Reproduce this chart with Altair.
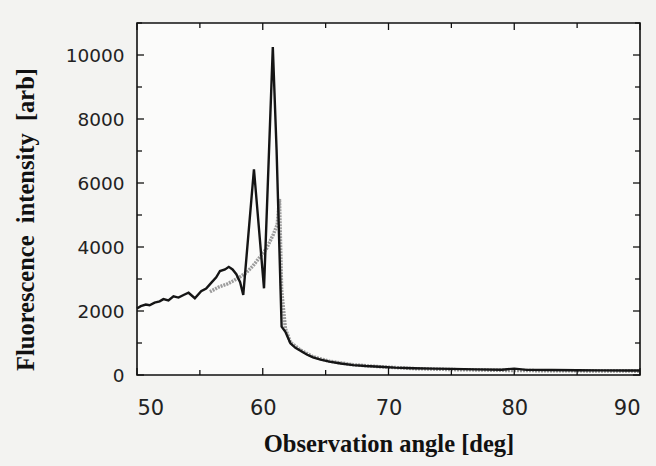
import altair as alt
import pandas as pd

# Measured fluorescence (black line)
black_angle = [50.0, 50.3, 50.7, 51.0, 51.4, 51.8, 52.1, 52.5, 52.9, 53.3, 53.7, 54.1, 54.6,
               55.1, 55.5, 55.9, 56.3, 56.6, 57.0, 57.3, 57.6, 57.9, 58.2, 58.45, 59.3, 60.1,
               60.8, 61.1, 61.5, 61.8, 62.2, 62.6, 63.0, 63.5, 64.0, 64.6, 65.3, 66.2, 67.2,
               68.2, 69.3, 70.5, 72.0, 73.5, 75.0, 77.0, 79.0, 80.0, 81.0, 83.0, 85.0, 87.0,
               89.0, 90.0]
black_int = [2080, 2150, 2200, 2180, 2260, 2300, 2370, 2330, 2460, 2420, 2500, 2570, 2400,
             2620, 2700, 2880, 3050, 3250, 3300, 3380, 3300, 3150, 2900, 2500, 6430, 2710,
             10250, 7030, 1510, 1350, 990, 850, 760, 640, 550, 480, 420, 360, 310,
             280, 260, 230, 210, 200, 190, 175, 165, 200, 160, 155, 150, 145,
             140, 140]

# Calculated curve (grey)
grey_angle = [55.8, 56.5, 57.2, 57.7, 58.2, 58.7, 59.2, 59.8, 60.3, 60.85, 61.15, 61.33, 61.5,
              61.8, 62.2, 63.0, 64.0, 65.3, 67.2, 69.3, 72.0, 75.0, 80.0, 85.0, 90.0]
grey_int = [2600, 2750, 2850, 2950, 3070, 3200, 3400, 3700, 3950, 4400, 4700, 5500, 2650,
            1450, 1020, 780, 570, 430, 320, 260, 200, 170, 140, 130, 120]

x_major = [50, 60, 70, 80, 90]
x_minor = [55, 65, 75, 85]
y_major = [0, 2000, 4000, 6000, 8000, 10000]
y_minor = [1000, 3000, 5000, 7000, 9000, 11000]

W, H = 503, 352

black_df = pd.DataFrame({"angle": black_angle, "intensity": black_int})
grey_df = pd.DataFrame({"angle": grey_angle, "intensity": grey_int})

xscale = alt.Scale(domain=[50, 90], nice=False)
yscale = alt.Scale(domain=[0, 11000], nice=False)

serif = "Liberation Serif"
sans = "DejaVu Sans"
NB = "\u00a0"

xaxis = alt.Axis(values=x_major, ticks=False, domain=False, grid=False, format="d",
                 labelFont=sans, labelFontSize=21, labelColor="#222222", labelPadding=22,
                 title="Observation angle [deg]", titleFont=serif, titleFontSize=24.5,
                 titleFontWeight="bold", titleColor="#111111", titlePadding=14)
yaxis = alt.Axis(values=y_major, ticks=False, domain=False, grid=False, format="d",
                 labelFont=sans, labelFontSize=18.5, labelColor="#222222", labelPadding=13,
                 title="Fluorescence" + NB * 2 + "intensity" + NB * 2 + "[arb]",
                 titleFont=serif, titleFontSize=24.5, titleY=196,
                 titleFontWeight="bold", titleColor="#111111", titlePadding=27)

grey = alt.Chart(grey_df).mark_line(color="#9c9c9c", strokeWidth=3.5, strokeDash=[2, 1]).encode(
    x=alt.X("angle:Q", scale=xscale, axis=xaxis),
    y=alt.Y("intensity:Q", scale=yscale, axis=yaxis),
)
black = alt.Chart(black_df).mark_line(color="#151515", strokeWidth=2.4).encode(
    x=alt.X("angle:Q", scale=xscale),
    y=alt.Y("intensity:Q", scale=yscale),
)

xmaj = pd.DataFrame({"v": x_major})
xmin = pd.DataFrame({"v": x_minor})
ymaj = pd.DataFrame({"v": y_major})
ymin = pd.DataFrame({"v": y_minor})

def xticks(df, L):
    bottom = alt.Chart(df).mark_rule(color="#111111", strokeWidth=1.3).encode(
        x=alt.X("v:Q", scale=xscale), y=alt.value(H), y2=alt.value(H - L))
    top = alt.Chart(df).mark_rule(color="#111111", strokeWidth=1.3).encode(
        x=alt.X("v:Q", scale=xscale), y=alt.value(0), y2=alt.value(L))
    return [bottom, top]

def yticks(df, L):
    left = alt.Chart(df).mark_rule(color="#111111", strokeWidth=1.3).encode(
        y=alt.Y("v:Q", scale=yscale), x=alt.value(0), x2=alt.value(L))
    right = alt.Chart(df).mark_rule(color="#111111", strokeWidth=1.3).encode(
        y=alt.Y("v:Q", scale=yscale), x=alt.value(W), x2=alt.value(W - L))
    return [left, right]

layers = [grey, black] + xticks(xmaj, 7) + xticks(xmin, 5) + yticks(ymaj, 7) + yticks(ymin, 5)

chart = alt.layer(*layers).properties(
    width=W, height=H,
    padding={"left": 137, "top": 23, "right": 16, "bottom": 91},
    autosize="none",
    background="#f3f3f1",
).configure_view(
    stroke="#111111", strokeWidth=1.6, fill="#fbfbfa"
)

chart.save("out.html", embed_options={"renderer": "svg", "actions": False})
